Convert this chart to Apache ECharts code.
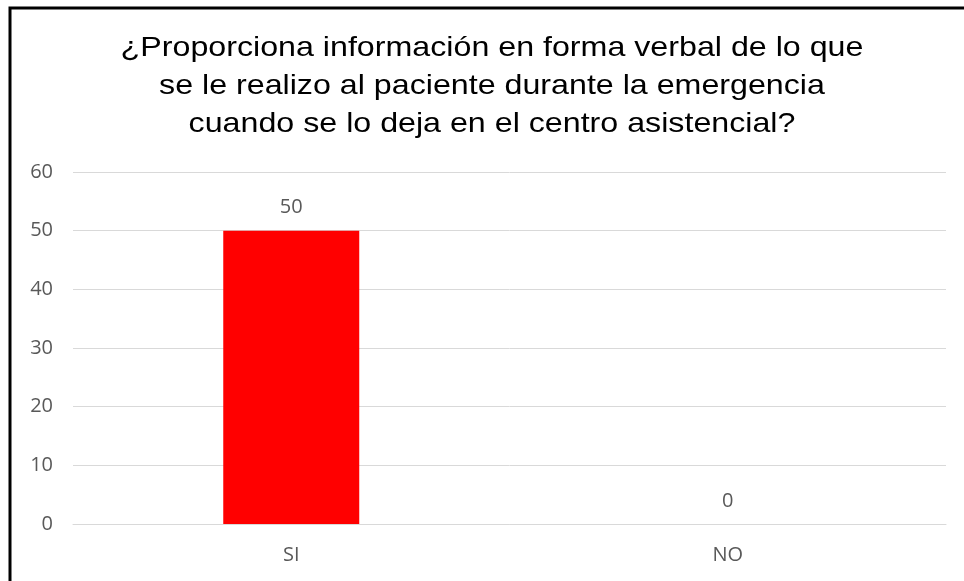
<!DOCTYPE html>
<html>
<head>
<meta charset="utf-8">
<script src="https://cdn.jsdelivr.net/npm/echarts@6/dist/echarts.min.js"></script>
<style>
  html, body { margin: 0; padding: 0; background: #fff; }
  #chart { width: 964px; height: 581px; }
</style>
</head>
<body>
<div id="chart"></div>
<script>
const titleText = '¿Proporciona información en forma verbal de lo que\nse le realizo al paciente durante la emergencia\ncuando se lo deja en el centro asistencial?'
const categories = ['SI', 'NO']
const values = [50, 0]
const yTicks = { min: 0, max: 60, interval: 10 }

const myChart = echarts.init(document.getElementById('chart'))

const labelFont = { color: '#595959', fontSize: 20, fontFamily: 'Open Sans, sans-serif' }

const options = {
  animation: false,
  graphic: [
    {
      type: 'rect',
      shape: { x: 10, y: 8, width: 1000, height: 700 },
      style: { fill: 'none', stroke: '#000', lineWidth: 3 },
      silent: true
    },
    {
      // title, slightly widened like the source picture
      type: 'text',
      x: 492,
      y: 29,
      scaleX: 1.15,
      style: {
        text: titleText,
        textAlign: 'center',
        textVerticalAlign: 'top',
        font: '28px "Liberation Sans", Arial, sans-serif',
        lineHeight: 38,
        fill: '#000'
      }
    }
  ],
  grid: { left: 73, right: 18, top: 172, bottom: 57 },
  xAxis: {
    type: 'category',
    data: categories,
    axisLine: { lineStyle: { color: '#d9d9d9', width: 1 } },
    axisTick: { show: false },
    axisLabel: { ...labelFont, margin: 21 }
  },
  yAxis: {
    type: 'value',
    min: yTicks.min,
    max: yTicks.max,
    interval: yTicks.interval,
    axisLine: { show: false },
    axisTick: { show: false },
    splitLine: { lineStyle: { color: '#d9d9d9', width: 1 } },
    axisLabel: { ...labelFont, margin: 20 }
  },
  series: [
    {
      type: 'bar',
      data: values,
      barWidth: 136,
      itemStyle: { color: '#ff0000' },
      label: {
        show: true,
        position: 'top',
        distance: 13,
        ...labelFont
      }
    }
  ]
}

myChart.setOption(options)
</script>
</body>
</html>
